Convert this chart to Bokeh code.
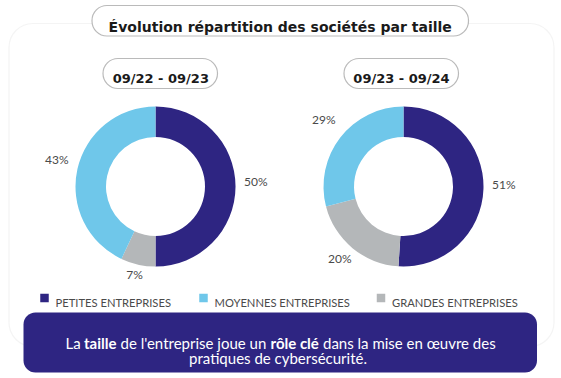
import numpy as np
from bokeh.plotting import figure
from bokeh.models import Range1d, BoxAnnotation, ColumnDataSource
from bokeh.embed import file_html
from bokeh.resources import INLINE
from bokeh.core.properties import value

# ---------------- data ----------------
title_text = "Évolution répartition des sociétés par taille"
periods = ["09/22 - 09/23", "09/23 - 09/24"]
categories = ["PETITES ENTREPRISES", "MOYENNES ENTREPRISES", "GRANDES ENTREPRISES"]
colors = ["#2e2582", "#6fc7ea", "#b4b7b9"]
values_2223 = [50, 43, 7]
values_2324 = [51, 29, 20]
# clockwise order from 12 o'clock: petites, grandes, moyennes
clock_order = [0, 2, 1]
message_line1 = [("La", "normal"), ("taille", "bold"), ("de l'entreprise joue un", "normal"),
                 ("rôle clé", "bold"), ("dans la mise en œuvre des", "normal")]
message_line2 = "pratiques de cybersécurité."

# ---------------- canvas (data units == screen pixels) ----------------
W, H = 561, 378
def sy(y):
    return H - y

p = figure(width=W, height=H, x_range=Range1d(0, W), y_range=Range1d(0, H),
           output_backend="svg", toolbar_location=None, x_axis_type=None, y_axis_type=None,
           min_border=0, outline_line_color=None, background_fill_color="white",
           border_fill_color="white")
p.grid.visible = False

BODY = "Lato"
HEAD = "DejaVu Sans"
INK = "#1a1a1a"

# outer panel
p.add_layout(BoxAnnotation(left=8.5, right=553.5, top=sy(23), bottom=sy(346),
                           fill_color="white", fill_alpha=1, line_color="#dcdcdc",
                           line_width=1.2, border_radius=24, level="underlay"))
# title pill
p.add_layout(BoxAnnotation(left=91.5, right=468, top=sy(5), bottom=sy(35.5),
                           fill_color="white", fill_alpha=1, line_color=INK,
                           line_width=1.2, border_radius=15, level="underlay"))
# period pills
for l, r in [(102.5, 217), (343.5, 458)]:
    p.add_layout(BoxAnnotation(left=l, right=r, top=sy(58), bottom=sy(88),
                               fill_color="white", fill_alpha=1, line_color=INK,
                               line_width=1.2, border_radius=15, level="underlay"))
# message box
p.add_layout(BoxAnnotation(left=23, right=536.5, top=sy(312), bottom=sy(372),
                           fill_color="#2e2582", fill_alpha=1, line_color=None,
                           border_radius=12, level="underlay"))

p.text(x=[279.7], y=[sy(26)], text=[title_text], text_align="center", text_baseline="alphabetic",
       text_font=value(HEAD), text_font_style="bold", text_font_size="14px", text_color=INK)
for cx, lab in zip([160.3, 401], periods):
    p.text(x=[cx], y=[sy(78)], text=[lab], text_align="center", text_baseline="alphabetic",
           text_font=value(HEAD), text_font_style="bold", text_font_size="13px", text_color=INK)

# ---------------- donuts ----------------
centers = [(155, sy(186)), (403, sy(186))]
R_IN, R_OUT, GAP = 49.5, 80, 9
LW, LH = 7.5, 10  # approx. width per character / height of the % labels
for (cx, cy), vals in zip(centers, [values_2223, values_2324]):
    v = np.array([vals[i] for i in clock_order], dtype=float)
    frac = v / v.sum()
    c1 = np.cumsum(frac)
    c0 = c1 - frac
    start = np.pi / 2 - 2 * np.pi * c0
    end = np.pi / 2 - 2 * np.pi * c1
    mid = (start + end) / 2
    labels = [f"{int(x)}%" for x in v]
    half_w = np.array([len(s) * LW / 2 for s in labels])
    d = R_OUT + GAP + np.abs(np.cos(mid)) * half_w + np.abs(np.sin(mid)) * LH / 2
    src = ColumnDataSource(dict(
        x=[cx] * len(v), y=[cy] * len(v), start=start, end=end,
        color=[colors[i] for i in clock_order],
        lx=cx + d * np.cos(mid), ly=cy + d * np.sin(mid), label=labels))
    p.annular_wedge(x="x", y="y", inner_radius=R_IN, outer_radius=R_OUT,
                    start_angle="start", end_angle="end", direction="clock",
                    fill_color="color", line_color=None, source=src)
    p.text(x="lx", y="ly", text="label", source=src, text_align="center",
           text_baseline="middle", y_offset=-5, text_font=value(BODY), text_font_size="12px",
           text_color="#4a4a4a")

# ---------------- legend ----------------
leg_x = [44, 203, 380.5]
p.scatter(x=leg_x, y=[sy(297.5)] * 3, marker="square", size=8.5, fill_color=colors,
          line_color=None)
p.text(x=[x + 11 for x in leg_x], y=[sy(301.5)] * 3, text=categories, text_align="left",
       text_baseline="alphabetic", text_font=value(BODY), text_font_size="11.2px",
       text_color="#4a4a4a")

# ---------------- message ----------------
seg_x = [65, 83.5, 120, 270, 322.5]
for (txt, style), x in zip(message_line1, seg_x):
    p.text(x=[x], y=[sy(342.3)], text=[txt], text_align="left", text_baseline="alphabetic",
           text_font=value(BODY), text_font_style=style, text_font_size="15px",
           text_color="white")
p.text(x=[277.5], y=[sy(357.7)], text=[message_line2], text_align="center",
       text_baseline="alphabetic", text_font=value(BODY), text_font_size="15px",
       text_color="white")

open("out.html", "w").write(file_html(p, INLINE))
